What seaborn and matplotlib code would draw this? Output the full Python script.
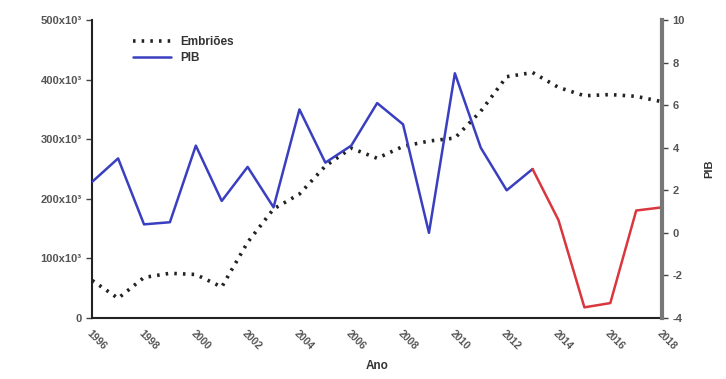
import matplotlib
matplotlib.use("Agg")
import matplotlib.pyplot as plt
import seaborn as sns
import pandas as pd

years = list(range(1996, 2019))
embrioes = [63000, 33000, 68000, 75000, 73000, 52000, 127000, 183000, 208000, 255000,
            285000, 268000, 288000, 297000, 302000, 347000, 405000, 412000, 387000,
            373000, 375000, 372000, 363000]
pib_years_blue = list(range(1996, 2014))
pib_blue = [2.4, 3.5, 0.4, 0.5, 4.1, 1.5, 3.1, 1.2, 5.8, 3.3, 4.1, 6.1, 5.1, 0.0,
            7.5, 4.0, 2.0, 3.0]
pib_years_red = list(range(2013, 2019))
pib_red = [3.0, 0.6, -3.5, -3.3, 1.05, 1.2]

left_ticks = [0, 100000, 200000, 300000, 400000, 500000]
left_labels = ["0", "100x10³", "200x10³", "300x10³", "400x10³", "500x10³"]
right_ticks = [-4, -2, 0, 2, 4, 6, 8, 10]
x_ticks = list(range(1996, 2019, 2))

sns.set_theme(style="white")
plt.rcParams['font.family'] = ['Liberation Sans', 'DejaVu Sans']
plt.rcParams['axes.unicode_minus'] = False

fig = plt.figure(figsize=(7.26, 3.79), dpi=100)
ax = fig.add_axes([0.127, 0.161, 0.785, 0.786])
ax2 = ax.twinx()

df_e = pd.DataFrame({"Ano": years, "Embriões": embrioes})
df_b = pd.DataFrame({"Ano": pib_years_blue, "PIB": pib_blue})
df_r = pd.DataFrame({"Ano": pib_years_red, "PIB": pib_red})

sns.lineplot(data=df_e, x="Ano", y="Embriões", ax=ax, color="#222222",
             linewidth=2.6, linestyle=(0, (0.7, 1.7)), dash_capstyle="butt",
             label="Embriões", legend=False)
sns.lineplot(data=df_b, x="Ano", y="PIB", ax=ax2, color="#3a3fc0",
             linewidth=1.8, label="PIB", legend=False)
sns.lineplot(data=df_r, x="Ano", y="PIB", ax=ax2, color="#d9363e",
             linewidth=1.8, legend=False)

ax.set_xlim(1996, 2018)
ax.set_ylim(0, 500000)
ax2.set_ylim(-4, 10)

ax.set_yticks(left_ticks)
ax.set_yticklabels(left_labels)
ax2.set_yticks(right_ticks)
ax.set_xticks(x_ticks)
ax.set_xticklabels([str(y) for y in x_ticks], rotation=-45, ha="left",
                   rotation_mode="anchor")

for a in (ax, ax2):
    a.tick_params(axis="both", direction="out", length=4, width=1,
                  labelsize=8, labelcolor="#555555", colors="#444444")
    for lab in a.get_xticklabels() + a.get_yticklabels():
        lab.set_fontweight("bold")
        lab.set_color("#555555")
ax.tick_params(axis="x", labelsize=7.5)

ax.set_xlabel("Ano", fontsize=8.5, fontweight="bold", color="#333333", labelpad=6)
ax.set_ylabel("")
ax2.set_ylabel("PIB", fontsize=8, fontweight="bold", color="#333333", labelpad=14)

ax.spines["top"].set_visible(False)
ax2.spines["top"].set_visible(False)
ax.spines["right"].set_visible(False)
ax2.spines["left"].set_visible(False)
ax2.spines["bottom"].set_visible(False)
ax.spines["left"].set_color("#222222")
ax.spines["left"].set_linewidth(1.5)
ax.spines["bottom"].set_color("#222222")
ax.spines["bottom"].set_linewidth(1.5)
ax2.spines["right"].set_color("#777777")
ax2.spines["right"].set_linewidth(3)
ax.grid(False)
ax2.grid(False)

h1, l1 = ax.get_legend_handles_labels()
h2, l2 = ax2.get_legend_handles_labels()
leg = ax.legend(h1 + h2[:1], l1 + l2[:1], loc="upper left",
                bbox_to_anchor=(0.06, 0.97), frameon=False, fontsize=8.5,
                handlelength=3.2, borderaxespad=0.2, labelspacing=0.35)
for t in leg.get_texts():
    t.set_fontweight("bold")
    t.set_color("#333333")

fig.savefig("out.png", dpi=100)
